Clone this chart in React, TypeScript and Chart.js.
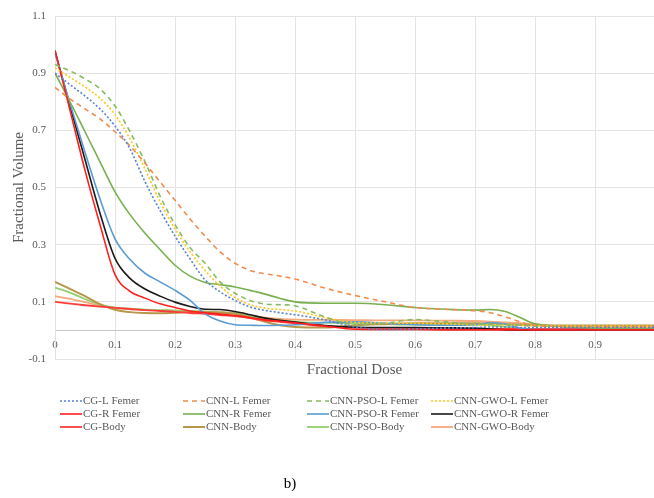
import { useEffect, useRef } from "react";
import { Chart, registerables } from "chart.js";

Chart.register(...registerables);

const SERIF = "'Liberation Serif', 'Times New Roman', serif";

// Fractional dose sample positions (x)
const dose = [0, 0.025, 0.05, 0.075, 0.1, 0.125, 0.15, 0.175, 0.2, 0.225, 0.25, 0.275, 0.3, 0.325, 0.35, 0.375, 0.4, 0.45, 0.5, 0.55, 0.6, 0.65, 0.7, 0.725, 0.75, 0.775, 0.8, 0.85, 0.9, 0.95, 1.0];

// Fractional volume series
const cgLFemer = [0.90, 0.86, 0.82, 0.775, 0.715, 0.635, 0.52, 0.42, 0.33, 0.25, 0.177, 0.135, 0.105, 0.082, 0.07, 0.062, 0.055, 0.037, 0.012, 0.003, 0.005, 0.008, 0.01, 0.012, 0.012, 0.01, 0.01, 0.01, 0.01, 0.01, 0.01];
const cnnLFemer = [0.85, 0.81, 0.775, 0.74, 0.695, 0.645, 0.585, 0.52, 0.455, 0.39, 0.33, 0.275, 0.235, 0.21, 0.198, 0.19, 0.18, 0.148, 0.122, 0.10, 0.08, 0.074, 0.069, 0.062, 0.048, 0.03, 0.018, 0.014, 0.013, 0.013, 0.013];
const psoLFemer = [0.93, 0.908, 0.88, 0.845, 0.785, 0.695, 0.59, 0.47, 0.37, 0.29, 0.235, 0.17, 0.13, 0.105, 0.092, 0.09, 0.086, 0.047, 0.02, 0.025, 0.038, 0.03, 0.022, 0.022, 0.02, 0.018, 0.015, 0.013, 0.012, 0.012, 0.012];
const gwoLFemer = [0.918, 0.885, 0.852, 0.812, 0.755, 0.67, 0.565, 0.45, 0.355, 0.275, 0.21, 0.155, 0.115, 0.09, 0.078, 0.073, 0.068, 0.045, 0.028, 0.026, 0.025, 0.023, 0.02, 0.02, 0.019, 0.018, 0.017, 0.016, 0.015, 0.015, 0.015];
const cgRFemer = [0.98, 0.77, 0.56, 0.37, 0.195, 0.137, 0.113, 0.093, 0.08, 0.068, 0.062, 0.057, 0.052, 0.045, 0.037, 0.032, 0.027, 0.015, 0.004, 0.003, 0.003, 0.002, 0.002, 0.002, 0.002, 0.002, 0.002, 0.002, 0.002, 0.002, 0.002];
const cnnRFemer = [0.90, 0.80, 0.695, 0.59, 0.485, 0.405, 0.34, 0.283, 0.228, 0.19, 0.168, 0.16, 0.152, 0.14, 0.127, 0.112, 0.1, 0.095, 0.095, 0.09, 0.08, 0.074, 0.071, 0.073, 0.066, 0.045, 0.023, 0.013, 0.008, 0.006, 0.005];
const psoRFemer = [0.97, 0.794, 0.623, 0.46, 0.32, 0.248, 0.2, 0.17, 0.14, 0.105, 0.058, 0.033, 0.02, 0.018, 0.017, 0.018, 0.02, 0.028, 0.03, 0.025, 0.02, 0.018, 0.02, 0.027, 0.022, 0.008, 0.003, 0.003, 0.003, 0.003, 0.003];
const gwoRFemer = [0.977, 0.785, 0.598, 0.41, 0.252, 0.182, 0.145, 0.12, 0.099, 0.084, 0.074, 0.073, 0.066, 0.055, 0.043, 0.035, 0.029, 0.017, 0.011, 0.01, 0.01, 0.009, 0.008, 0.005, 0.002, 0.001, 0.001, 0.001, 0.001, 0.001, 0.001];
const cgBody = [0.10, 0.094, 0.088, 0.083, 0.079, 0.075, 0.071, 0.068, 0.065, 0.061, 0.058, 0.054, 0.05, 0.043, 0.035, 0.03, 0.025, 0.015, 0.01, 0.009, 0.008, 0.006, 0.005, 0.005, 0.005, 0.005, 0.005, 0.005, 0.005, 0.005, 0.005];
const cnnBody = [0.17, 0.145, 0.12, 0.092, 0.072, 0.064, 0.061, 0.06, 0.062, 0.064, 0.064, 0.062, 0.058, 0.045, 0.03, 0.018, 0.012, 0.01, 0.018, 0.022, 0.025, 0.025, 0.025, 0.024, 0.022, 0.02, 0.018, 0.017, 0.017, 0.017, 0.017];
const psoBody = [0.15, 0.132, 0.11, 0.09, 0.08, 0.076, 0.073, 0.071, 0.07, 0.068, 0.066, 0.063, 0.06, 0.05, 0.04, 0.035, 0.03, 0.027, 0.025, 0.022, 0.02, 0.02, 0.02, 0.018, 0.012, 0.006, 0.003, 0.001, 0.001, 0.001, 0.001];
const gwoBody = [0.12, 0.11, 0.099, 0.087, 0.078, 0.074, 0.072, 0.07, 0.068, 0.067, 0.066, 0.064, 0.06, 0.052, 0.045, 0.04, 0.038, 0.037, 0.036, 0.035, 0.035, 0.034, 0.033, 0.031, 0.028, 0.025, 0.022, 0.012, 0.01, 0.01, 0.01];

const seriesLabels = [
  "CG-L Femer", "CNN-L Femer", "CNN-PSO-L Femer", "CNN-GWO-L Femer",
  "CG-R Femer", "CNN-R Femer", "CNN-PSO-R Femer", "CNN-GWO-R Femer",
  "CG-Body", "CNN-Body", "CNN-PSO-Body", "CNN-GWO-Body",
];
const seriesValues = [
  cgLFemer, cnnLFemer, psoLFemer, gwoLFemer,
  cgRFemer, cnnRFemer, psoRFemer, gwoRFemer,
  cgBody, cnnBody, psoBody, gwoBody,
];
const seriesColors = [
  "#5a83cc", "#ef8c4f", "#86bb62", "#ffc61a",
  "#ff1f1f", "#78b04f", "#5b9bd5", "#1a1a1a",
  "#ff3c3c", "#b8964a", "#93cf6c", "#f4a97c",
];
const seriesDash: number[][] = [
  [2, 2], [5, 4], [5, 4], [2, 2],
  [], [], [], [],
  [], [], [], [],
];
const seriesWidth = [1.6, 1.6, 1.6, 1.6, 1.6, 1.6, 1.6, 1.6, 1.8, 2, 1.8, 1.8];

const xTickValues = [0, 0.1, 0.2, 0.3, 0.4, 0.5, 0.6, 0.7, 0.8, 0.9];
const yTickValues = [-0.1, 0, 0.1, 0.3, 0.5, 0.7, 0.9, 1.1];

const LEGEND_COL_X = [60, 183, 307, 431];
const LEGEND_ROW_Y = [401, 414, 427];

const gridLegend = {
  id: "gridLegend",
  afterDraw(chart: any) {
    const ctx = chart.ctx;
    chart.data.datasets.forEach((ds: any, i: number) => {
      const x = LEGEND_COL_X[i % 4];
      const y = LEGEND_ROW_Y[Math.floor(i / 4)];
      ctx.save();
      ctx.strokeStyle = ds.borderColor;
      ctx.lineWidth = ds.borderWidth;
      ctx.setLineDash(ds.borderDash || []);
      ctx.beginPath();
      ctx.moveTo(x, y);
      ctx.lineTo(x + 22, y);
      ctx.stroke();
      ctx.setLineDash([]);
      ctx.fillStyle = "#595959";
      ctx.font = `11px ${SERIF}`;
      ctx.textBaseline = "middle";
      ctx.textAlign = "left";
      ctx.fillText(ds.label, x + 23, y + 0.5);
      ctx.restore();
    });
  },
};

export default function App() {
  const canvasRef = useRef<HTMLCanvasElement | null>(null);

  useEffect(() => {
    if (!canvasRef.current) return;
    const datasets = seriesLabels.map((label, i) => ({
      label,
      data: dose.map((d, j) => ({ x: d, y: seriesValues[i][j] })),
      borderColor: seriesColors[i],
      backgroundColor: seriesColors[i],
      borderDash: seriesDash[i],
      borderWidth: seriesWidth[i],
      pointRadius: 0,
      fill: false,
      cubicInterpolationMode: "monotone" as const,
      xAxisID: "x",
      yAxisID: "y",
    }));

    const chart = new Chart(canvasRef.current, {
      type: "line",
      data: { datasets },
      options: {
        animation: false,
        responsive: false,
        events: [],
        layout: { padding: { left: 10, top: 16, right: 0, bottom: 119 } },
        plugins: { legend: { display: false }, tooltip: { enabled: false } },
        scales: {
          x: {
            type: "linear",
            min: 0,
            max: 0.998,
            position: { y: 0 } as any,
            afterBuildTicks: (s: any) => {
              s.ticks = xTickValues.map((v) => ({ value: v }));
            },
            grid: { color: "#e3e3e3", drawTicks: false },
            border: { display: false },
            ticks: {
              font: { family: SERIF, size: 11 },
              color: "#595959",
              padding: 8,
              autoSkip: false,
              maxRotation: 0,
              callback: (v: any) => (Number(v) === 0 ? "0" : Number(v).toFixed(1)),
            },
          },
          xt: {
            type: "linear",
            position: "bottom",
            min: 0,
            max: 0.998,
            grid: { display: false, drawTicks: false },
            border: { display: false },
            ticks: { display: false },
            title: {
              display: true,
              text: "Fractional Dose",
              font: { family: SERIF, size: 15 },
              color: "#595959",
              padding: 0,
            },
            afterFit: (s: any) => {
              s.height = 20;
            },
          },
          y: {
            type: "linear",
            min: -0.1,
            max: 1.1,
            afterBuildTicks: (s: any) => {
              s.ticks = yTickValues.map((v) => ({ value: v }));
            },
            grid: {
              color: (c: any) => (c.tick && Math.abs(c.tick.value) < 1e-9 ? "#c6c6c6" : "#e3e3e3"),
              drawTicks: false,
            },
            border: { color: "#e3e3e3" },
            ticks: {
              font: { family: SERIF, size: 11 },
              color: "#595959",
              padding: 9,
              autoSkip: false,
              callback: (v: any) => (Math.abs(Number(v)) < 1e-9 ? "" : Number(v).toFixed(1)),
            },
            title: {
              display: true,
              text: "Fractional Volume",
              font: { family: SERIF, size: 15 },
              color: "#595959",
              padding: 0,
            },
            afterFit: (s: any) => {
              s.width = 45;
            },
          },
        },
      },
      plugins: [gridLegend],
    });
    return () => chart.destroy();
  }, []);

  return (
    <div style={{ position: "absolute", left: 0, top: 0, width: 654, height: 498, background: "#fff" }}>
      <canvas ref={canvasRef} width={654} height={498} style={{ display: "block" }} />
      <div
        style={{
          position: "absolute",
          left: 250,
          top: 475,
          width: 80,
          textAlign: "center",
          fontFamily: SERIF,
          fontSize: 15,
          color: "#000",
        }}
      >
        b)
      </div>
    </div>
  );
}
